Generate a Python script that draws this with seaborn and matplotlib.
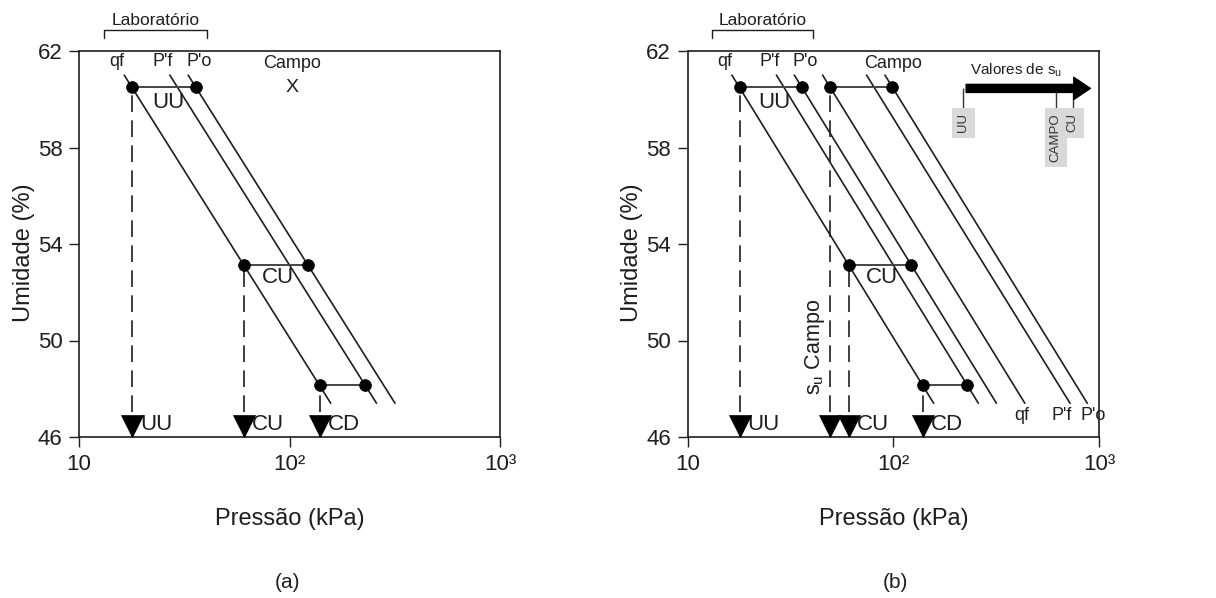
import numpy as np
import pandas as pd
import seaborn as sns
from matplotlib import pyplot as plt
from matplotlib.patches import FancyArrowPatch, ArrowStyle

sns.set_theme(style="ticks")
plt.rcParams['font.family'] = ['Liberation Sans', 'DejaVu Sans']

# curvas umidade x log(pressao)
w_top, w_bot = 61.0, 47.4
lab_names = ['qf', "P'f", "P'o"]
lab_p_top = [16.4, 27.0, 33.0]
lab_p_bot = [157, 259, 317]
campo_p_top = [45.3, 74.1, 91.0]
campo_p_bot = [436, 723, 877]

# ensaios de laboratorio
ensaios = ['UU', 'CU', 'CD']
ensaio_w = [60.5, 53.15, 48.15]
ensaio_p_qf = [17.9, 61, 139]
ensaio_p_dir = [35.9, 122, 229]

# campo
campo_w = 60.5
campo_p = [49.2, 99]
campo_x_a = 103

# escala de su (painel b)
su_nomes = ['UU', 'CAMPO', 'CU']
su_pos = [219, 617, 745]
su_fim = 937

INK = '#1e1e1e'


def lines_df(tops, bots, names):
    return pd.DataFrame({
        'linha': names * 2,
        'p': tops + bots,
        'w': [w_top] * len(names) + [w_bot] * len(names),
    })


def base_axes(ax):
    ax.set_xscale('log')
    ax.set_xlim(10, 1000)
    ax.set_ylim(46, 62)
    for s in ax.spines.values():
        s.set_linewidth(1.2)
        s.set_color(INK)


def finish_axes(ax, lab_x):
    ax.set_xticks([10, 100, 1000])
    ax.set_xticklabels(['10', '10²', '10³'])
    ax.xaxis.set_minor_locator(plt.NullLocator())
    ax.set_yticks([46, 50, 54, 58, 62])
    ax.tick_params(direction='out', length=7, width=1, labelsize=16,
                   colors=INK, pad=5)
    ax.set_xlabel('Pressão (kPa)', fontsize=17, color=INK)
    ax.set_ylabel('Umidade (%)', fontsize=17, color=INK)
    ax.xaxis.set_label_coords(0.5, -0.185)
    ax.yaxis.set_label_coords(lab_x, 0.477)


def draw_lab(ax):
    df = lines_df(lab_p_top, lab_p_bot, lab_names)
    sns.lineplot(data=df, x='p', y='w', units='linha', estimator=None,
                 sort=False, color=INK, lw=1.2, ax=ax)
    # segmentos horizontais entre os pontos de cada ensaio
    seg = pd.DataFrame({'ensaio': ensaios * 2,
                        'p': ensaio_p_qf + ensaio_p_dir,
                        'w': ensaio_w * 2})
    sns.lineplot(data=seg, x='p', y='w', units='ensaio', estimator=None,
                 sort=False, color='#444444', lw=1.4, ax=ax)
    pts = pd.DataFrame({'p': ensaio_p_qf + ensaio_p_dir, 'w': ensaio_w * 2})
    sns.scatterplot(data=pts, x='p', y='w', s=70, color='black',
                    edgecolor='black', zorder=5, ax=ax)
    # verticais tracejadas ate o eixo
    ax.vlines(ensaio_p_qf, 46, ensaio_w, colors=INK, lw=1.2,
              linestyles=(0, (10, 5)), zorder=2)
    # labels
    ax.text(26.5, 59.85, 'UU', fontsize=16, ha='center', va='center', color=INK)
    ax.text(88, 52.6, 'CU', fontsize=16, ha='center', va='center', color=INK)
    for name, x in zip(lab_names, [15.1, 25.1, 37.2]):
        ax.text(x, 61.55, name, fontsize=13, ha='center', va='center', color=INK)
    # colchete "Laboratorio"
    ax.plot([13.1, 13.1, 40.6, 40.6], [62.55, 62.87, 62.87, 62.55],
            color=INK, lw=1, clip_on=False)
    ax.text(23.06, 63.25, 'Laboratório', fontsize=12.5, ha='center',
            va='center', color=INK)


def draw_triangles(ax, ps, names):
    tri = pd.DataFrame({'p': ps, 'w': [46.45] * len(ps)})
    sns.scatterplot(data=tri, x='p', y='w', marker='v', s=250, color='black',
                    edgecolor='black', linewidth=0.5, zorder=6, clip_on=False, ax=ax)
    for p, name in zip(ps, names):
        if name:
            ax.text(p * 1.09, 46.5, name, fontsize=16, ha='left', va='center',
                    color=INK)


fig = plt.figure(figsize=(12.16, 5.98), dpi=100)
ax_a = fig.add_axes([79 / 1216, 1 - 437 / 598, 421 / 1216, 386 / 598])
ax_b = fig.add_axes([687.7 / 1216, 1 - 437 / 598, 411.3 / 1216, 386 / 598])

# ---------------- painel (a)
base_axes(ax_a)
draw_lab(ax_a)
draw_triangles(ax_a, ensaio_p_qf, ensaios)
ax_a.text(campo_x_a, 61.5, 'Campo', fontsize=13, ha='center', va='center', color=INK)
ax_a.text(campo_x_a, 60.5, 'X', fontsize=14, ha='center', va='center', color=INK)
finish_axes(ax_a, -0.105)

# ---------------- painel (b)
base_axes(ax_b)
draw_lab(ax_b)
dfc = lines_df(campo_p_top, campo_p_bot, ['cqf', 'cpf', 'cpo'])
sns.lineplot(data=dfc, x='p', y='w', units='linha', estimator=None,
             sort=False, color=INK, lw=1.2, ax=ax_b)
ax_b.plot(campo_p, [campo_w] * 2, color='#444444', lw=1.4)
sns.scatterplot(x=campo_p, y=[campo_w] * 2, s=70, color='black',
                edgecolor='black', zorder=5, ax=ax_b)
ax_b.vlines([campo_p[0]], 46, campo_w, colors=INK, lw=1.2,
            linestyles=(0, (10, 5)), zorder=2)
draw_triangles(ax_b, [ensaio_p_qf[0], campo_p[0], ensaio_p_qf[1], ensaio_p_qf[2]],
               ['UU', '', 'CU', 'CD'])
ax_b.text(99.5, 61.5, 'Campo', fontsize=13, ha='center', va='center', color=INK)
ax_b.text(41.6, 49.75, r'$\mathregular{s_u}$ Campo', fontsize=15.5, rotation=90,
          ha='center', va='center', color=INK)
for name, x in zip(lab_names, [421, 658, 937]):
    ax_b.text(x, 46.88, name, fontsize=13, ha='center', va='center', color=INK)

# seta "Valores de su"
arrow = FancyArrowPatch((su_pos[0], 60.45), (su_fim, 60.45),
                        arrowstyle=ArrowStyle.Simple(head_length=12, head_width=16,
                                                     tail_width=5.8),
                        mutation_scale=1, color='black', zorder=6)
ax_b.add_patch(arrow)
ax_b.text(397, 61.2, r'Valores de $\mathregular{s_u}$', fontsize=11,
          ha='center', va='center', color=INK)
ax_b.vlines(su_pos, 59.55, 60.45, colors='#333333', lw=1)
for x, name in zip(su_pos, su_nomes):
    ax_b.text(x, 59.42, name, fontsize=9.5, rotation=90, ha='center', va='top',
              color='#333333',
              bbox=dict(boxstyle='square,pad=0.4', fc='#d9d9d9', ec='none'))
finish_axes(ax_b, -0.109)

fig.text(287 / 1216, 1 - 583 / 598, '(a)', fontsize=15, ha='center', va='center', color=INK)
fig.text(895 / 1216, 1 - 583 / 598, '(b)', fontsize=15, ha='center', va='center', color=INK)

fig.savefig('out.png', dpi=100)
